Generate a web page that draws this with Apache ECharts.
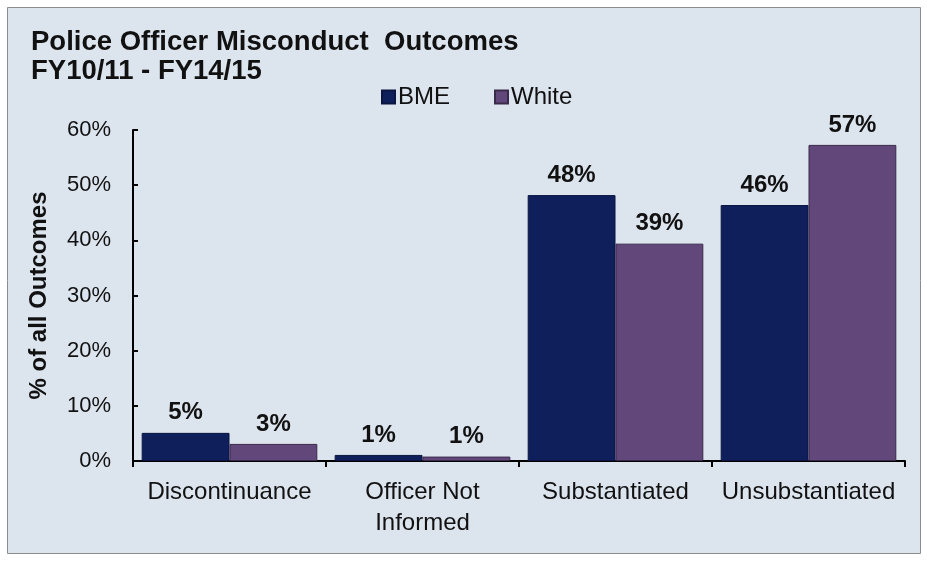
<!DOCTYPE html>
<html>
<head>
<meta charset="utf-8">
<script src="https://cdn.jsdelivr.net/npm/echarts@6/dist/echarts.min.js"></script>
<style>
  html, body { margin: 0; padding: 0; background: #fff; }
  #chart { width: 928px; height: 561px; }
</style>
</head>
<body>
<div id="chart"></div>
<script>
// categories and values (percent)
var categories = ['Discontinuance', 'Officer Not\nInformed', 'Substantiated', 'Unsubstantiated'];
var bmeValues = [5.1, 1.1, 48.2, 46.4];
var whiteValues = [3.1, 0.8, 39.4, 57.3];
var bmeLabels = ['5%', '1%', '48%', '46%'];
var whiteLabels = ['3%', '1%', '39%', '57%'];

var font = 'Liberation Sans, Arial, sans-serif';

var chart = echarts.init(document.getElementById('chart'));

var option = {
  backgroundColor: '#ffffff',
  animation: false,
  graphic: [
    {
      type: 'rect',
      z: -10,
      shape: { x: 7.5, y: 7.5, width: 913, height: 546 },
      style: { fill: '#dce4ee', stroke: '#8c8c8c', lineWidth: 1 }
    }
  ],
  title: {
    text: 'Police Officer Misconduct  Outcomes\nFY10/11 - FY14/15',
    left: 26,
    top: 23,
    textStyle: {
      fontFamily: font,
      fontSize: 27.5,
      fontWeight: 'bold',
      color: '#111',
      lineHeight: 29
    }
  },
  legend: {
    top: 80,
    left: 376,
    itemWidth: 13,
    itemHeight: 13,
    itemGap: 44,
    icon: 'rect',
    textStyle: { fontFamily: font, fontSize: 24, color: '#111', padding: [0, 0, 0, -2] },
    data: ['BME', 'White']
  },
  grid: {
    left: 133,
    right: 23,
    top: 130,
    bottom: 100
  },
  xAxis: {
    type: 'category',
    data: categories,
    axisLine: { lineStyle: { color: '#000', width: 2 } },
    axisTick: { show: true, interval: 0, length: 6, lineStyle: { color: '#000', width: 2 } },
    axisLabel: {
      interval: 0,
      fontFamily: font,
      fontSize: 24,
      color: '#111',
      margin: 16,
      lineHeight: 31
    }
  },
  yAxis: {
    type: 'value',
    min: 0,
    max: 60,
    interval: 10,
    name: '% of all Outcomes',
    nameLocation: 'middle',
    nameGap: 82,
    nameTextStyle: { fontFamily: font, fontSize: 24, fontWeight: 'bold', color: '#111' },
    splitLine: { show: false },
    axisLine: { show: true, lineStyle: { color: '#000', width: 2 } },
    axisTick: { show: true, inside: true, length: 5, lineStyle: { color: '#000', width: 2 } },
    axisLabel: {
      fontFamily: font,
      fontSize: 22,
      color: '#111',
      margin: 22,
      formatter: '{value}%'
    }
  },
  series: [
    {
      name: 'BME',
      type: 'bar',
      data: bmeValues,
      barWidth: '45.5%',
      barGap: '0%',
      itemStyle: { color: '#0e1f5c', borderColor: '#0a1540', borderWidth: 1 },
      label: {
        show: true,
        position: 'top',
        distance: 8,
        fontFamily: font,
        fontSize: 24,
        fontWeight: 'bold',
        color: '#111',
        formatter: function (p) { return bmeLabels[p.dataIndex]; }
      }
    },
    {
      name: 'White',
      type: 'bar',
      data: whiteValues,
      barWidth: '45.5%',
      itemStyle: { color: '#62477a', borderColor: '#3a2a4a', borderWidth: 1 },
      label: {
        show: true,
        position: 'top',
        distance: 8,
        fontFamily: font,
        fontSize: 24,
        fontWeight: 'bold',
        color: '#111',
        formatter: function (p) { return whiteLabels[p.dataIndex]; }
      }
    }
  ]
};

chart.setOption(option);
</script>
</body>
</html>
